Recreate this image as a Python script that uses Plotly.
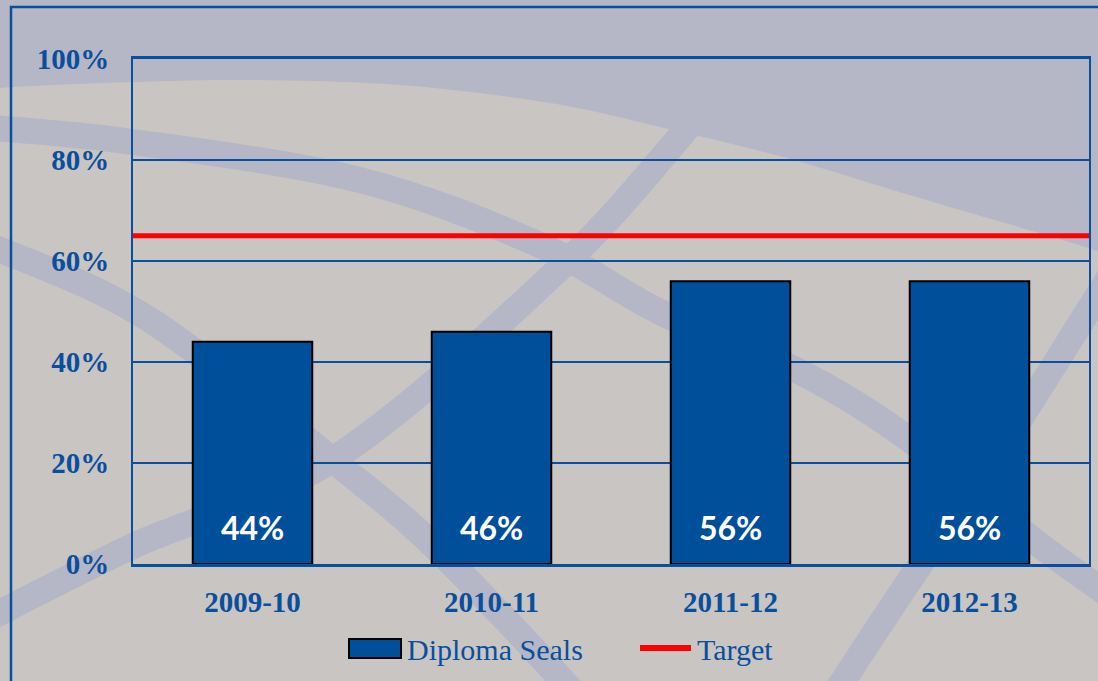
import plotly.graph_objects as go

# data
years = ['2009-10', '2010-11', '2011-12', '2012-13']
diploma_seals = [44, 46, 56, 56]
target = 65

BLUE = '#004F9A'
TEXT_BLUE = '#0A4F9C'
BEIGE = '#C9C5C3'
SHADE = '#B5B7C6'

W, H = 1098, 681
L, R, T, B = 133, 1089, 59, 564


def px(x):
    return (x - L) / (R - L)


def py(y):
    return (B - y) / (B - T)


def smooth_path(pts):
    # catmull-rom -> cubic bezier, pixel points to paper coords
    p = [(px(x), py(y)) for x, y in pts]
    d = 'M %.4f,%.4f' % p[0]
    for i in range(len(p) - 1):
        p0 = p[i - 1] if i > 0 else p[i]
        p1, p2 = p[i], p[i + 1]
        p3 = p[i + 2] if i + 2 < len(p) else p2
        c1 = (p1[0] + (p2[0] - p0[0]) / 6, p1[1] + (p2[1] - p0[1]) / 6)
        c2 = (p2[0] - (p3[0] - p1[0]) / 6, p2[1] - (p3[1] - p1[1]) / 6)
        d += ' C %.4f,%.4f %.4f,%.4f %.4f,%.4f' % (c1 + c2 + p2)
    return d


fig = go.Figure()

fig.add_trace(go.Bar(
    x=years, y=diploma_seals, name='Diploma Seals',
    marker=dict(color=BLUE, line=dict(color='black', width=2)),
    showlegend=False,
))

# target line
fig.add_hline(y=target, line=dict(color='#FF0000', width=5), layer='above')

# value labels near the bottom of each bar
for yr, v in zip(years, diploma_seals):
    fig.add_annotation(x=yr, y=0, text=f'{v}%', showarrow=False,
                       yanchor='middle', yshift=37,
                       font=dict(family='Lato', size=32, color='white', weight='bold'))

# background watermark (globe arcs)
shapes = []
top_arc = [(-30, 95), (0, 88), (133, 82), (250, 80), (400, 85), (550, 103),
           (660, 127), (783, 157), (883, 187), (950, 207), (1063, 240), (1130, 262)]
top_path = smooth_path(top_arc) + ' L %.4f,%.4f L %.4f,%.4f Z' % (px(1130), py(-30), px(-30), py(-30))
shapes.append(dict(type='path', path=top_path, xref='paper', yref='paper',
                   fillcolor=SHADE, line=dict(width=0), layer='below'))

bands = [
    [(-30, 126), (133, 142), (360, 180), (540, 245), (660, 312), (800, 372),
     (910, 440), (1033, 540), (1130, 610)],
    [(-30, 628), (133, 546), (335, 458), (560, 268), (690, 125), (760, 40)],
    [(-30, 238), (100, 292), (193, 350), (335, 462), (433, 545), (563, 681), (590, 715)],
    [(1120, 260), (1070, 340), (1000, 450), (920, 565), (843, 681), (825, 710)],
]
for b in bands:
    shapes.append(dict(type='path', path=smooth_path(b), xref='paper', yref='paper',
                       line=dict(color=SHADE, width=26), layer='below'))

# outer frame
shapes.append(dict(type='rect', xref='paper', yref='paper',
                   x0=px(11), x1=px(1130), y0=py(720), y1=py(7),
                   line=dict(color=TEXT_BLUE, width=2.5), layer='below'))

# legend drawn by hand
shapes.append(dict(type='rect', xref='paper', yref='paper',
                   x0=px(349), x1=px(401), y0=py(658), y1=py(639),
                   fillcolor=BLUE, line=dict(color='black', width=2)))
shapes.append(dict(type='line', xref='paper', yref='paper',
                   x0=px(640), x1=px(691), y0=py(648), y1=py(648),
                   line=dict(color='#FF0000', width=6)))
fig.add_annotation(x=px(405), y=py(649), xref='paper', yref='paper',
                   text='Diploma Seals', showarrow=False, xanchor='left', yanchor='middle',
                   font=dict(family='Liberation Serif', size=30, color=TEXT_BLUE))
fig.add_annotation(x=px(695), y=py(649), xref='paper', yref='paper',
                   text='Target', showarrow=False, xanchor='left', yanchor='middle',
                   font=dict(family='Liberation Serif', size=30, color=TEXT_BLUE))

fig.update_layout(
    width=W, height=H,
    margin=dict(l=L, r=W - R, t=T, b=H - B, pad=0),
    paper_bgcolor=BEIGE,
    plot_bgcolor='rgba(0,0,0,0)',
    bargap=0.5,
    shapes=fig.layout.shapes + tuple(shapes),
    font=dict(family='Liberation Serif', color=TEXT_BLUE),
)

fig.update_yaxes(
    range=[0, 100], dtick=20, ticksuffix='%', automargin=False,
    showgrid=True, gridcolor=TEXT_BLUE, gridwidth=1.5,
    showline=True, linecolor=TEXT_BLUE, linewidth=2, mirror=True,
    zeroline=False, ticks='', ticklabelstandoff=16,
    tickfont=dict(family='Liberation Serif', size=29, color=TEXT_BLUE, weight='bold'),
)
fig.update_xaxes(
    type='category', automargin=False,
    showline=True, linecolor=TEXT_BLUE, linewidth=2.5, mirror=True,
    ticks='', ticklabelstandoff=10,
    tickfont=dict(family='Liberation Serif', size=29, color=TEXT_BLUE, weight='bold'),
)

fig.write_html('out.html', config={'displayModeBar': False},
               post_script="document.body.style.margin='0';")
